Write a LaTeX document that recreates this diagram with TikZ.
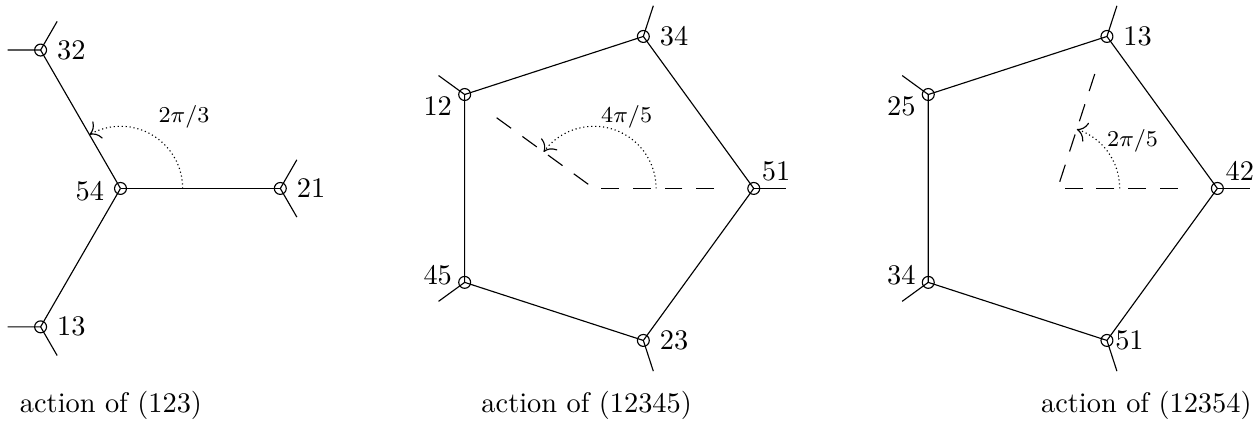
\documentclass[tikz,border=0pt]{standalone}
\usepackage{tikz}
\usetikzlibrary{arrows.meta, calc}

\tikzset{
  vtx/.style={circle, draw, inner sep=0pt, minimum size=4.2pt},
  ray/.style={dash pattern=on 6.3pt off 4.9pt},
  turn/.style={densely dotted, -{To[length=3.5pt, width=7pt]}},
  anglbl/.style={font=\footnotesize},
  toplbl/.style={anchor=south west, inner sep=0pt, xshift=0.4pt, yshift=2.5pt},
  lowlbl/.style={anchor=north east, inner sep=0pt, xshift=-2pt, yshift=-0.7pt},
  uplbl/.style={anchor=south east, inner sep=0pt, xshift=-2pt, yshift=-1pt},
}

\begin{document}
\begin{tikzpicture}
\useasboundingbox (-1.493,2.335) rectangle (14.081,-2.906);

% Action of (123): star with three arms
\node[vtx, label={[yshift=-1pt]west:54}] (s54) at (0,0) {};
\node[vtx, label=east:21] (s21) at (0:1.98) {};
\node[vtx, label=east:32] (s32) at (120:1.98) {};
\node[vtx, label=east:13] (s13) at (240:1.98) {};

\foreach \v/\a in {s21/0, s32/120, s13/240} {
    \path (\v.center) ++(\a+60:0.41) coordinate (\v-l)
          (\v.center) ++(\a-60:0.41) coordinate (\v-r);
    \draw (s54.center) -- (\v.center);
    \draw (\v-l) -- (\v.center) -- (\v-r);
}

% Rotation angle
\draw[turn] (0.77,0) arc[start angle=0, end angle=120, radius=0.77];
\node[anglbl] (ang1) at (0.787,0.886) {$2\pi/3$};

\node[anchor=base] (cap1) at (-0.118,-2.77) {action of (123)};

% Action of (12345): pentagon
\begin{scope}[shift={(5.866,0)}]
\coordinate (o2) at (0,0);
\node[vtx, label={[toplbl]east:51}] (p51) at (0:1.98) {};
\node[vtx, label=east:34] (p34) at (72:1.98) {};
\node[vtx, label={[lowlbl]west:12}] (p12) at (144:1.98) {};
\node[vtx, label={[uplbl]west:45}] (p45) at (216:1.98) {};
\node[vtx, label=east:23] (p23) at (288:1.98) {};

\draw (p51.center) -- (p34.center) -- (p12.center) -- (p45.center)
      -- (p23.center) -- cycle;
\foreach \v/\a in {p51/0, p34/72, p12/144, p45/216, p23/288} {
    \path (\v.center) ++(\a:0.4) coordinate (\v-out);
    \draw (\v.center) -- (\v-out);
}

% Rotation angle
\coordinate (r2a) at (0:1.49);
\coordinate (r2b) at (144:1.49);
\draw[ray] (r2a) -- (o2);
\draw[ray] (r2b) -- (o2);
\draw[turn] (0.77,0) arc[start angle=0, end angle=144, radius=0.77];
\node[anglbl] (ang2) at (0.405,0.892) {$4\pi/5$};

\node[anchor=base] (cap2) at (-0.09,-2.77) {action of (12345)};
\end{scope}

% Action of (12354): pentagon
\begin{scope}[shift={(11.61,0)}]
\coordinate (o3) at (0,0);
\node[vtx, label={[toplbl]east:42}] (q42) at (0:1.98) {};
\node[vtx, label=east:13] (q13) at (72:1.98) {};
\node[vtx, label={[lowlbl]west:25}] (q25) at (144:1.98) {};
\node[vtx, label={[uplbl]west:34}] (q34) at (216:1.98) {};
\node[vtx, label={[label distance=-2.9pt]east:51}] (q51) at (288:1.98) {};

\draw (q42.center) -- (q13.center) -- (q25.center) -- (q34.center)
      -- (q51.center) -- cycle;
\foreach \v/\a in {q42/0, q13/72, q25/144, q34/216, q51/288} {
    \path (\v.center) ++(\a:0.4) coordinate (\v-out);
    \draw (\v.center) -- (\v-out);
}

% Rotation angle
\coordinate (r3a) at (0:1.49);
\coordinate (r3b) at (72:1.49);
\draw[ray] (r3a) -- (o3);
\draw[ray] (r3b) -- (o3);
\draw[turn] (0.77,0) arc[start angle=0, end angle=72, radius=0.77];
\node[anglbl] (ang3) at (0.93,0.589) {$2\pi/5$};

\node[anchor=base] (cap3) at (1.1,-2.77) {action of (12354)};
\end{scope}

\end{tikzpicture}
\end{document}
